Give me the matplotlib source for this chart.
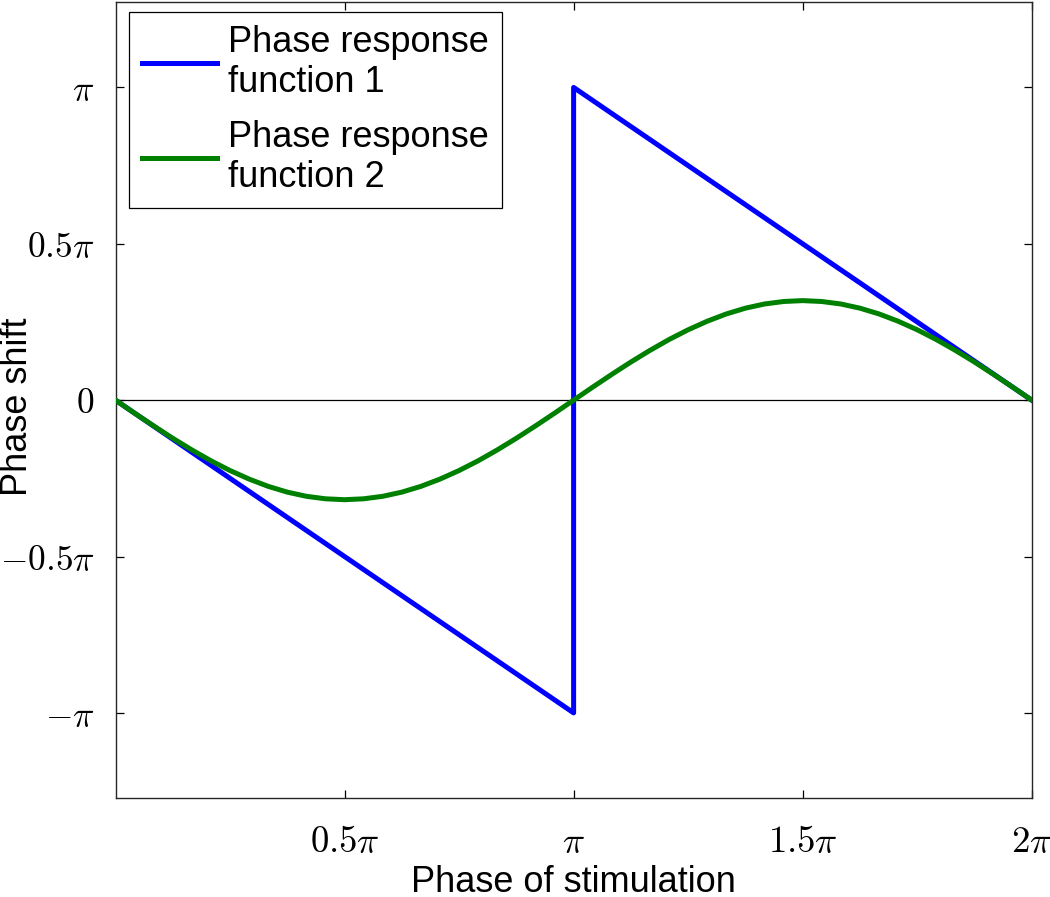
import numpy as np
import matplotlib
matplotlib.use("Agg")
import matplotlib.pyplot as plt

plt.rcParams['font.family'] = ['Liberation Sans', 'DejaVu Sans']
plt.rcParams['mathtext.fontset'] = 'cm'

# phase of stimulation, in units of pi
prf1_x = [0.0, 1.0, 1.0, 2.0]
prf1_y = [0.0, -1.0, 1.0, 0.0]          # phase shift, units of pi

prf2_x = list(np.linspace(0, 2, 49))    # sample grid, units of pi
half = [0.0, 0.131, 0.259, 0.383, 0.5, 0.609, 0.707, 0.793, 0.866, 0.924,
        0.966, 0.991, 1.0, 0.991, 0.966, 0.924, 0.866, 0.793, 0.707, 0.609,
        0.5, 0.383, 0.259, 0.131]
prf2_y = [-v for v in half] + [0.0] + half[1:] + [0.0]   # radians

xticks = [0.5, 1.0, 1.5, 2.0]
xtick_labels = [r'$0.5\pi$', r'$\pi$', r'$1.5\pi$', r'$2\pi$']
yticks = [-1.0, -0.5, 0.0, 0.5, 1.0]
ytick_labels = [r'$-\pi$', r'$-0.5\pi$', r'$0$', r'$0.5\pi$', r'$\pi$']

fig = plt.figure(figsize=(10.5, 8.97), dpi=100)
ax = fig.add_axes([0.110, 0.110, 0.8726, 0.8878])

pi = np.pi
ax.axhline(0, color='black', lw=0.9, zorder=1)
ax.plot(np.array(prf1_x) * pi, np.array(prf1_y) * pi, color=(0, 0, 1), lw=3.6,
        label='Phase response\nfunction 1', zorder=2)
ax.plot(np.array(prf2_x) * pi, prf2_y, color=(0, 0.5, 0), lw=3.6,
        label='Phase response\nfunction 2', zorder=3)

ax.set_xlim(0, 2 * pi)
ax.set_ylim(-4, 4)
ax.set_xticks(np.array(xticks) * pi)
ax.set_xticklabels(xtick_labels)
ax.set_yticks(np.array(yticks) * pi)
ax.set_yticklabels(ytick_labels)
ax.tick_params(direction='in', length=6, width=0.9, top=True, right=True)
ax.tick_params(axis='x', labelsize=26.5, pad=19)
ax.tick_params(axis='y', labelsize=25.5, pad=15)
for s in ax.spines.values():
    s.set_linewidth(1.0)
    s.set_color('#262626')

ax.set_xlabel('Phase of stimulation', fontsize=26, labelpad=4)
ax.set_ylabel('Phase shift', fontsize=26)
ax.yaxis.set_label_coords(-0.088, 0.492)

leg = ax.legend(loc='upper left', bbox_to_anchor=(0.0147, 0.9874),
                borderaxespad=0, fontsize=26, fancybox=False, framealpha=1,
                edgecolor='black', handlelength=2.1, handletextpad=0.3,
                labelspacing=0.55, borderpad=0.35)
leg.get_frame().set_linewidth(0.9)

fig.savefig('out.png', dpi=100)
